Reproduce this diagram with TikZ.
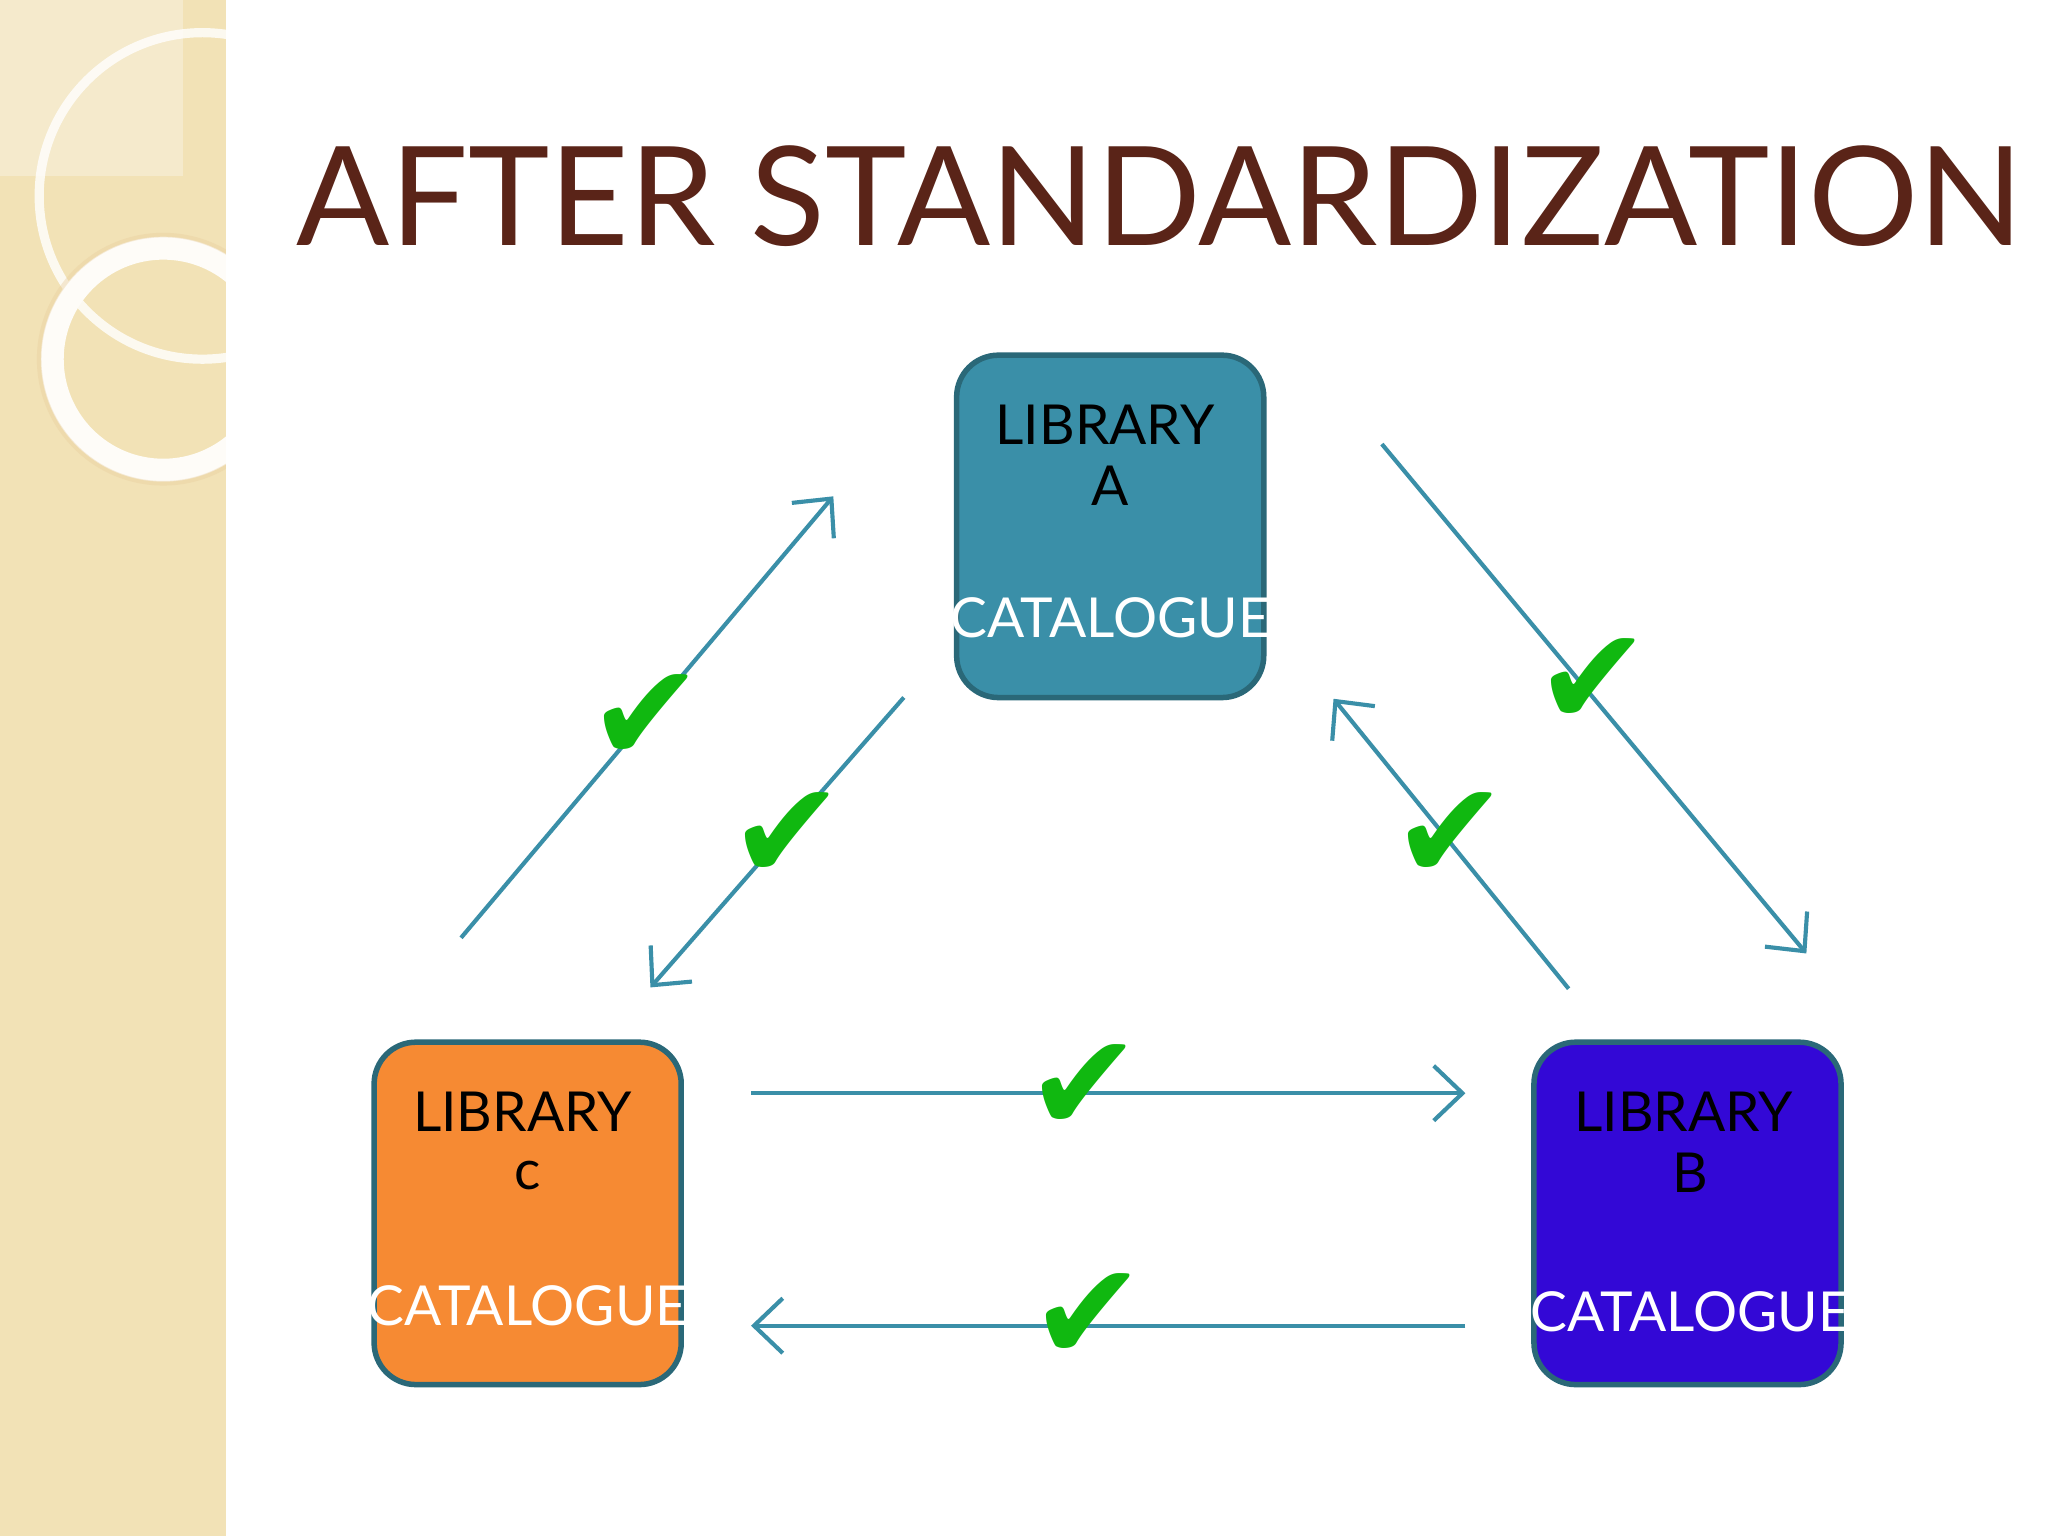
\documentclass[tikz,border=0pt]{standalone}
\usepackage{fontspec}
\setmainfont{Lato}
\newfontfamily\symf{DejaVu Sans}
\usetikzlibrary{arrows.meta}
\definecolor{band}{HTML}{F2E2B6}
\definecolor{title}{HTML}{5A2418}
\definecolor{teal}{HTML}{3A8FA8}
\definecolor{bord}{HTML}{2A6878}
\definecolor{orng}{HTML}{F68A33}
\definecolor{blu}{HTML}{3308D6}
\definecolor{chk}{HTML}{10B810}
\tikzset{
 box/.style={draw=bord,line width=1.2pt,rounded corners=0.32cm,minimum width=2.35cm,minimum height=2.62cm},
 lbl/.style={font=\fontsize{12}{14}\selectfont},
 arr/.style={draw=teal,line width=0.9pt,-{Straight Barb[length=2.2mm,width=4.2mm]}},
 tick/.style={text=chk,font=\symf\fontsize{30}{30}\selectfont,inner sep=0}
}
\begin{document}
\begin{tikzpicture}[x=0.01cm,y=-0.01cm]
\useasboundingbox (0,0) rectangle (1568,1176);
\fill[white] (0,0) rectangle (1568,1176);
\fill[band] (0,0) rectangle (173,1176);
\fill[white,opacity=0.3] (0,0) rectangle (140,135);
\begin{scope}
\clip (0,0) rectangle (173,1176);
\draw[white,opacity=0.8,line width=2pt] (155,150) circle (125);
\draw[white!90!band,line width=5pt] (125,275) circle (85);
\draw[band!80!brown,opacity=0.4,line width=1pt] (125,275) circle (95);
\end{scope}
\node[text=title,font=\fontsize{30}{34}\selectfont,anchor=center] (title) at (888,150) {AFTER STANDARDIZATION};
\node[box,fill=teal] (A) at (850,403) {};
\node[box,fill=orng] (C) at (404,929) {};
\node[box,fill=blu] (B) at (1292,929) {};
\node[lbl] (a1) at (846,325) {LIBRARY};
\node[lbl] (a2) at (850,372) {A};
\node[lbl,text=white] (a3) at (850,473) {CATALOGUE};
\node[lbl] (c1) at (400,851) {LIBRARY};
\node[lbl] (c2) at (404,900) {c};
\node[lbl,text=white] (c3) at (404,1000) {CATALOGUE};
\node[lbl] (b1) at (1289,851) {LIBRARY};
\node[lbl] (b2) at (1294,898) {B};
\node[lbl,text=white] (b3) at (1294,1004) {CATALOGUE};
\coordinate (p1) at (353,718); \coordinate (q1) at (638,380);
\coordinate (p2) at (692,534); \coordinate (q2) at (498,756);
\coordinate (p3) at (1058,340); \coordinate (q3) at (1383,730);
\coordinate (p4) at (1201,757); \coordinate (q4) at (1021,535);
\coordinate (p5) at (575,837); \coordinate (q5) at (1122,837);
\coordinate (p6) at (1122,1015); \coordinate (q6) at (575,1015);
\foreach \i in {1,...,6} \draw[arr] (p\i) -- (q\i);
\node[tick] (t1) at (495,550) {✔};
\node[tick] (t2) at (603,640) {✔};
\node[tick] (t3) at (1220,522) {✔};
\node[tick] (t4) at (1110,640) {✔};
\node[tick] (t5) at (830,833) {✔};
\node[tick] (t6) at (833,1008) {✔};
\end{tikzpicture}
\end{document}
